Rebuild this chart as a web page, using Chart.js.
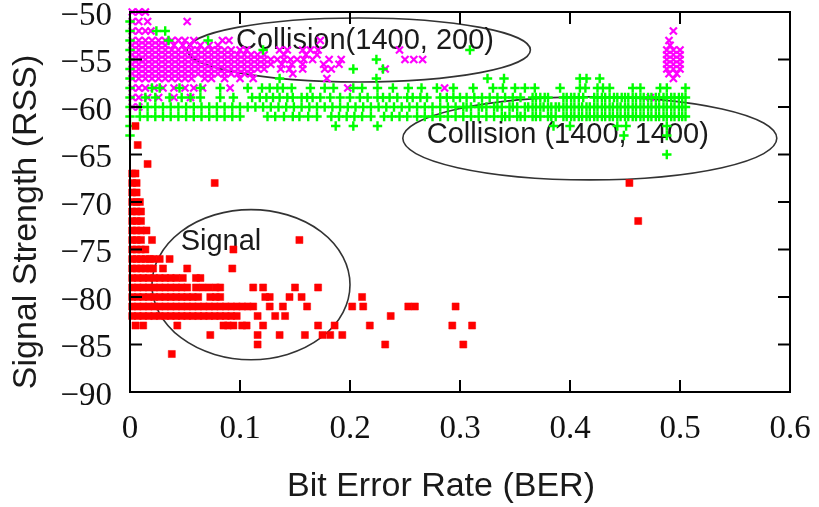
<!DOCTYPE html>
<html>
<head>
<meta charset="utf-8">
<script src="https://cdn.jsdelivr.net/npm/chart.js@4"></script>
<style>
  html, body { margin: 0; padding: 0; background: #fff; }
  #wrap { width: 819px; height: 507px; }
</style>
</head>
<body>
<div id="wrap"><canvas id="ber"></canvas></div>
<script>
    // Tick labels
    const xTickLabels = ['0', '0.1', '0.2', '0.3', '0.4', '0.5', '0.6'];
    const yTickLabels = ['\u221290', '\u221285', '\u221280', '\u221275', '\u221270', '\u221265', '\u221260', '\u221255', '\u221250'];

    // Signal: [RSS, [BER values]]
    const signalRows = [
        [-62, [0.005]],
        [-64, [0.007]],
        [-66, [0.016]],
        [-67, [0.002, 0.005]],
        [-68, [0.002, 0.006, 0.077, 0.454]],
        [-69, [0.002, 0.006]],
        [-70, [0.002, 0.006, 0.009]],
        [-71, [0.002, 0.006, 0.010]],
        [-72, [0.002, 0.006, 0.010, 0.462]],
        [-73, [0.002, 0.006, 0.010, 0.015]],
        [-74, [0.002, 0.006, 0.010, 0.020, 0.154]],
        [-75, [0.002, 0.006, 0.010, 0.014, 0.094]],
        [-76, [0.002, 0.006, 0.010, 0.014, 0.018, 0.021, 0.027, 0.036]],
        [-77, [0.002, 0.006, 0.010, 0.014, 0.018, 0.021, 0.030, 0.052, 0.093]],
        [-78, [0.002, 0.007, 0.012, 0.017, 0.022, 0.027, 0.032, 0.037, 0.042, 0.048, 0.060, 0.064]],
        [-79, [0.002, 0.007, 0.012, 0.017, 0.022, 0.027, 0.032, 0.037, 0.042, 0.047, 0.052, 0.060, 0.066, 0.072, 0.078, 0.082, 0.112, 0.121, 0.150, 0.171]],
        [-80, [0.002, 0.007, 0.012, 0.017, 0.022, 0.027, 0.032, 0.037, 0.042, 0.047, 0.052, 0.057, 0.062, 0.073, 0.078, 0.082, 0.123, 0.127, 0.145, 0.156, 0.211]],
        [-81, [0.002, 0.007, 0.012, 0.017, 0.022, 0.027, 0.032, 0.037, 0.042, 0.047, 0.052, 0.057, 0.062, 0.067, 0.072, 0.077, 0.082, 0.087, 0.092, 0.097, 0.102, 0.107, 0.112, 0.127, 0.139, 0.161, 0.202, 0.212, 0.253, 0.259, 0.296]],
        [-82, [0.002, 0.007, 0.012, 0.017, 0.022, 0.027, 0.032, 0.037, 0.042, 0.047, 0.052, 0.057, 0.062, 0.067, 0.072, 0.077, 0.082, 0.087, 0.092, 0.097, 0.116, 0.132, 0.141, 0.237]],
        [-83, [0.005, 0.012, 0.043, 0.085, 0.089, 0.094, 0.102, 0.106, 0.121, 0.171, 0.186, 0.218, 0.293, 0.311]],
        [-84, [0.073, 0.116, 0.136, 0.159, 0.175, 0.182, 0.193]],
        [-85, [0.116, 0.232, 0.303]],
        [-86, [0.038]]
    ];

    // Collision(1400, 200)
    const shortCollisionRows = [
        [-50, [0.002, 0.008, 0.014]],
        [-51, [0.002, 0.008, 0.016, 0.052]],
        [-52, [0.002, 0.008, 0.014, 0.019, 0.494]],
        [-53, [0.002, 0.008, 0.014, 0.020, 0.026, 0.032, 0.038, 0.044, 0.050, 0.058, 0.084, 0.090, 0.173, 0.490]],
        [-53.5, [0.002, 0.008, 0.014, 0.020, 0.026, 0.032, 0.040, 0.048, 0.055, 0.064, 0.072, 0.080, 0.491]],
        [-54, [0.002, 0.008, 0.014, 0.020, 0.026, 0.032, 0.038, 0.044, 0.050, 0.056, 0.062, 0.068, 0.074, 0.080, 0.086, 0.092, 0.100, 0.106, 0.136, 0.143, 0.157, 0.164, 0.171, 0.245, 0.488, 0.494, 0.500]],
        [-54.5, [0.002, 0.008, 0.014, 0.020, 0.026, 0.032, 0.038, 0.044, 0.050, 0.056, 0.062, 0.068, 0.074, 0.080, 0.086, 0.092, 0.098, 0.104, 0.110, 0.116, 0.122, 0.140, 0.160, 0.170, 0.488, 0.494, 0.500]],
        [-55, [0.002, 0.008, 0.014, 0.020, 0.026, 0.032, 0.038, 0.044, 0.050, 0.056, 0.062, 0.068, 0.074, 0.080, 0.086, 0.092, 0.098, 0.104, 0.110, 0.116, 0.122, 0.128, 0.134, 0.140, 0.146, 0.152, 0.158, 0.166, 0.181, 0.192, 0.250, 0.258, 0.266, 0.488, 0.494, 0.500]],
        [-55.5, [0.002, 0.008, 0.014, 0.020, 0.026, 0.032, 0.038, 0.044, 0.050, 0.056, 0.062, 0.068, 0.074, 0.080, 0.086, 0.092, 0.098, 0.104, 0.110, 0.116, 0.122, 0.128, 0.138, 0.147, 0.157, 0.176, 0.190, 0.488, 0.494, 0.500]],
        [-56, [0.002, 0.008, 0.014, 0.020, 0.026, 0.032, 0.038, 0.044, 0.050, 0.056, 0.062, 0.068, 0.074, 0.080, 0.086, 0.092, 0.098, 0.104, 0.110, 0.116, 0.122, 0.137, 0.145, 0.157, 0.177, 0.183, 0.232, 0.488, 0.494, 0.500]],
        [-56.5, [0.002, 0.008, 0.014, 0.020, 0.026, 0.032, 0.038, 0.044, 0.050, 0.056, 0.062, 0.068, 0.074, 0.080, 0.086, 0.092, 0.098, 0.104, 0.110, 0.148, 0.490, 0.497]],
        [-57, [0.002, 0.008, 0.014, 0.020, 0.026, 0.032, 0.038, 0.044, 0.050, 0.056, 0.068, 0.074, 0.086, 0.100, 0.112, 0.179, 0.494]],
        [-58, [0.002, 0.008, 0.014, 0.022, 0.030, 0.040, 0.050, 0.058, 0.066, 0.091, 0.198, 0.286]],
        [-59, [0.002, 0.008, 0.016, 0.026, 0.040, 0.055, 0.473]],
        [-60, [0.002, 0.008]]
    ];

    // Collision (1400, 1400)
    const longCollisionRows = [
        [-51, [0]],
        [-52, [0, 0.024, 0.032]],
        [-53, [0, 0.035, 0.071]],
        [-54, [0, 0.121, 0.309]],
        [-55, [0, 0.224]],
        [-56, [0, 0.203, 0.230]],
        [-57, [0, 0.136, 0.224, 0.325, 0.340, 0.409, 0.415, 0.427]],
        [-58, [0, 0.020, 0.027, 0.045, 0.064, 0.082, 0.107, 0.120, 0.127, 0.134, 0.139, 0.147, 0.164, 0.177, 0.185, 0.203, 0.211, 0.225, 0.239, 0.253, 0.265, 0.279, 0.294, 0.312, 0.330, 0.339, 0.350, 0.359, 0.368, 0.391, 0.409, 0.414, 0.425, 0.430, 0.436, 0.457, 0.464, 0.482, 0.488, 0.505]],
        [-59, [0, 0.014, 0.023, 0.036, 0.047, 0.055, 0.064, 0.082, 0.094, 0.111, 0.118, 0.124, 0.130, 0.136, 0.143, 0.148, 0.156, 0.161, 0.166, 0.173, 0.182, 0.191, 0.200, 0.209, 0.216, 0.225, 0.230, 0.236, 0.243, 0.252, 0.257, 0.264, 0.270, 0.282, 0.288, 0.294, 0.300, 0.306, 0.313, 0.320, 0.327, 0.334, 0.341, 0.348, 0.355, 0.366, 0.373, 0.380, 0.394, 0.401, 0.408, 0.422, 0.429, 0.436, 0.443, 0.450, 0.457, 0.464, 0.471, 0.478, 0.485, 0.492, 0.499, 0.505,
               0.369, 0.377, 0.397, 0.404, 0.412, 0.425, 0.432, 0.440, 0.447, 0.453, 0.460, 0.467, 0.474, 0.481, 0.488, 0.495, 0.502]],
        [-60, [0, 0.009, 0.016, 0.023, 0.030, 0.037, 0.044, 0.051, 0.058, 0.065, 0.072, 0.079, 0.086, 0.093, 0.100, 0.107, 0.114, 0.121, 0.128, 0.135, 0.142, 0.149, 0.156, 0.163, 0.170, 0.177, 0.184, 0.191, 0.198, 0.205, 0.212, 0.219, 0.226, 0.233, 0.240, 0.247, 0.254, 0.261, 0.268, 0.275, 0.282, 0.289, 0.296, 0.303, 0.310, 0.317, 0.324, 0.331, 0.338, 0.345, 0.352, 0.359, 0.366, 0.373, 0.380, 0.387, 0.394, 0.401, 0.408, 0.415, 0.422, 0.429, 0.436, 0.443, 0.450, 0.457, 0.464, 0.471, 0.478, 0.485, 0.492, 0.499, 0.505,
               0.306, 0.320, 0.334, 0.348, 0.362, 0.369, 0.376, 0.383, 0.390, 0.397, 0.404, 0.411, 0.418, 0.425, 0.432, 0.439, 0.446, 0.453, 0.460, 0.467, 0.474, 0.481, 0.488, 0.495, 0.502]],
        [-61, [0, 0.009, 0.016, 0.023, 0.030, 0.037, 0.044, 0.051, 0.058, 0.065, 0.072, 0.079, 0.086, 0.093, 0.100, 0.125, 0.132, 0.140, 0.148, 0.154, 0.162, 0.170, 0.183, 0.190, 0.197, 0.204, 0.211, 0.219, 0.231, 0.238, 0.245, 0.252, 0.261, 0.268, 0.275, 0.282, 0.289, 0.296, 0.303, 0.310, 0.317, 0.324, 0.331, 0.338, 0.345, 0.352, 0.359, 0.366, 0.373, 0.380, 0.387, 0.394, 0.401, 0.408, 0.415, 0.422, 0.429, 0.436, 0.443, 0.450, 0.457, 0.464, 0.471, 0.478, 0.485, 0.492, 0.499, 0.505,
               0.341, 0.355, 0.369, 0.383, 0.397, 0.404, 0.411, 0.418, 0.425, 0.432, 0.439, 0.446, 0.453, 0.460, 0.467, 0.474, 0.481, 0.488, 0.495, 0.502]],
        [-62, [0, 0.187, 0.203, 0.225, 0.385, 0.400, 0.443, 0.451, 0.488]],
        [-63, [0, 0.449, 0.488]],
        [-65, [0.488]]
    ];

    // Ellipse annotations (data units) and their captions
    const ellipses = [
        { cx: 0.208, cy: -54.0, rx: 0.156, ry: 3.37 },
        { cx: 0.418, cy: -63.3, rx: 0.170, ry: 4.37 },
        { cx: 0.110, cy: -78.7, rx: 0.090, ry: 7.9 }
    ];
    const captions = [
        { text: 'Collision(1400, 200)', x: 0.2136, y: -53.05 },
        { text: 'Collision (1400, 1400)', x: 0.398, y: -62.95 },
        { text: 'Signal', x: 0.0827, y: -74.2 }
    ];

    const toPoints = rows => rows.flatMap(([y, xs]) => xs.map(x => ({ x, y })));

    const sans = '"Liberation Sans", Arial, sans-serif';
    const serif = '"Liberation Serif", "Times New Roman", serif';

    const decorPlugin = {
        id: 'decor',
        beforeDatasetsDraw(chart) {
            const { ctx, scales: { x, y } } = chart;
            ctx.save();
            ctx.strokeStyle = '#333';
            ctx.lineWidth = 1.6;
            ellipses.forEach(e => {
                const px = x.getPixelForValue(e.cx);
                const py = y.getPixelForValue(e.cy);
                const rx = Math.abs(x.getPixelForValue(e.cx + e.rx) - px);
                const ry = Math.abs(y.getPixelForValue(e.cy + e.ry) - py);
                ctx.beginPath();
                ctx.ellipse(px, py, rx, ry, 0, 0, Math.PI * 2);
                ctx.stroke();
            });
            ctx.fillStyle = '#1a1a1a';
            ctx.font = '29px ' + sans;
            ctx.textAlign = 'center';
            ctx.textBaseline = 'middle';
            captions.forEach(c => {
                ctx.fillText(c.text, x.getPixelForValue(c.x), y.getPixelForValue(c.y));
            });
            ctx.restore();
        },
        afterDatasetsDraw(chart) {
            const { ctx, chartArea: a, scales: { x, y } } = chart;
            ctx.save();
            ctx.strokeStyle = '#000';
            ctx.lineWidth = 2;
            ctx.strokeRect(a.left, a.top, a.right - a.left, a.bottom - a.top);
            const len = 12;
            ctx.beginPath();
            x.ticks.forEach(t => {
                const px = x.getPixelForValue(t.value);
                ctx.moveTo(px, a.bottom); ctx.lineTo(px, a.bottom - len);
                ctx.moveTo(px, a.top); ctx.lineTo(px, a.top + len);
            });
            y.ticks.forEach(t => {
                const py = y.getPixelForValue(t.value);
                ctx.moveTo(a.left, py); ctx.lineTo(a.left + len, py);
                ctx.moveTo(a.right, py); ctx.lineTo(a.right - len, py);
            });
            ctx.stroke();

            // axis titles
            ctx.fillStyle = '#1a1a1a';
            ctx.font = '34px ' + sans;
            ctx.textAlign = 'center';
            ctx.textBaseline = 'middle';
            ctx.fillText('Bit Error Rate (BER)', 441, 487);
            ctx.translate(27, 222);
            ctx.rotate(-Math.PI / 2);
            ctx.fillText('Signal Strength (RSS)', 0, 0);
            ctx.restore();
        }
    };

    const ctx = document.getElementById('ber').getContext('2d');
    const chart = new Chart(ctx, {
        type: 'scatter',
        data: {
            datasets: [
                {
                    label: 'Signal',
                    data: toPoints(signalRows),
                    pointStyle: 'rect',
                    pointRadius: 5,
                    backgroundColor: '#ff0000',
                    borderColor: '#ff0000',
                    borderWidth: 0.5,
                    clip: false
                },
                {
                    label: 'Collision (1400, 1400)',
                    data: toPoints(longCollisionRows),
                    pointStyle: 'cross',
                    pointRadius: 4.7,
                    borderColor: '#00ff00',
                    borderWidth: 2.4,
                    clip: false
                },
                {
                    label: 'Collision(1400, 200)',
                    data: toPoints(shortCollisionRows),
                    pointStyle: 'crossRot',
                    pointRadius: 5,
                    borderColor: '#ff00ff',
                    borderWidth: 2.2,
                    clip: false
                }
            ]
        },
        options: {
            responsive: true,
            maintainAspectRatio: false,
            animation: false,
            events: [],
            layout: { padding: { top: 12, right: 29, left: 0, bottom: 0 } },
            plugins: {
                legend: { display: false },
                tooltip: { enabled: false }
            },
            scales: {
                x: {
                    type: 'linear',
                    min: 0,
                    max: 0.6,
                    afterFit: s => { s.height = 115; s.paddingLeft = 0; s.paddingRight = 0; },
                    grid: { display: false, drawTicks: false },
                    border: { display: false },
                    ticks: {
                        stepSize: 0.1,
                        padding: 18,
                        color: '#111',
                        font: { family: serif, size: 33 },
                        callback: (v, i) => xTickLabels[i]
                    }
                },
                y: {
                    type: 'linear',
                    min: -90,
                    max: -50,
                    afterFit: s => { s.width = 130; s.paddingTop = 0; s.paddingBottom = 0; },
                    grid: { display: false, drawTicks: false },
                    border: { display: false },
                    ticks: {
                        stepSize: 5,
                        padding: 18,
                        labelOffset: 4,
                        color: '#111',
                        font: { family: serif, size: 33 },
                        callback: (v, i) => yTickLabels[i]
                    }
                }
            }
        },
        plugins: [decorPlugin]
    });
</script>
</body>
</html>
